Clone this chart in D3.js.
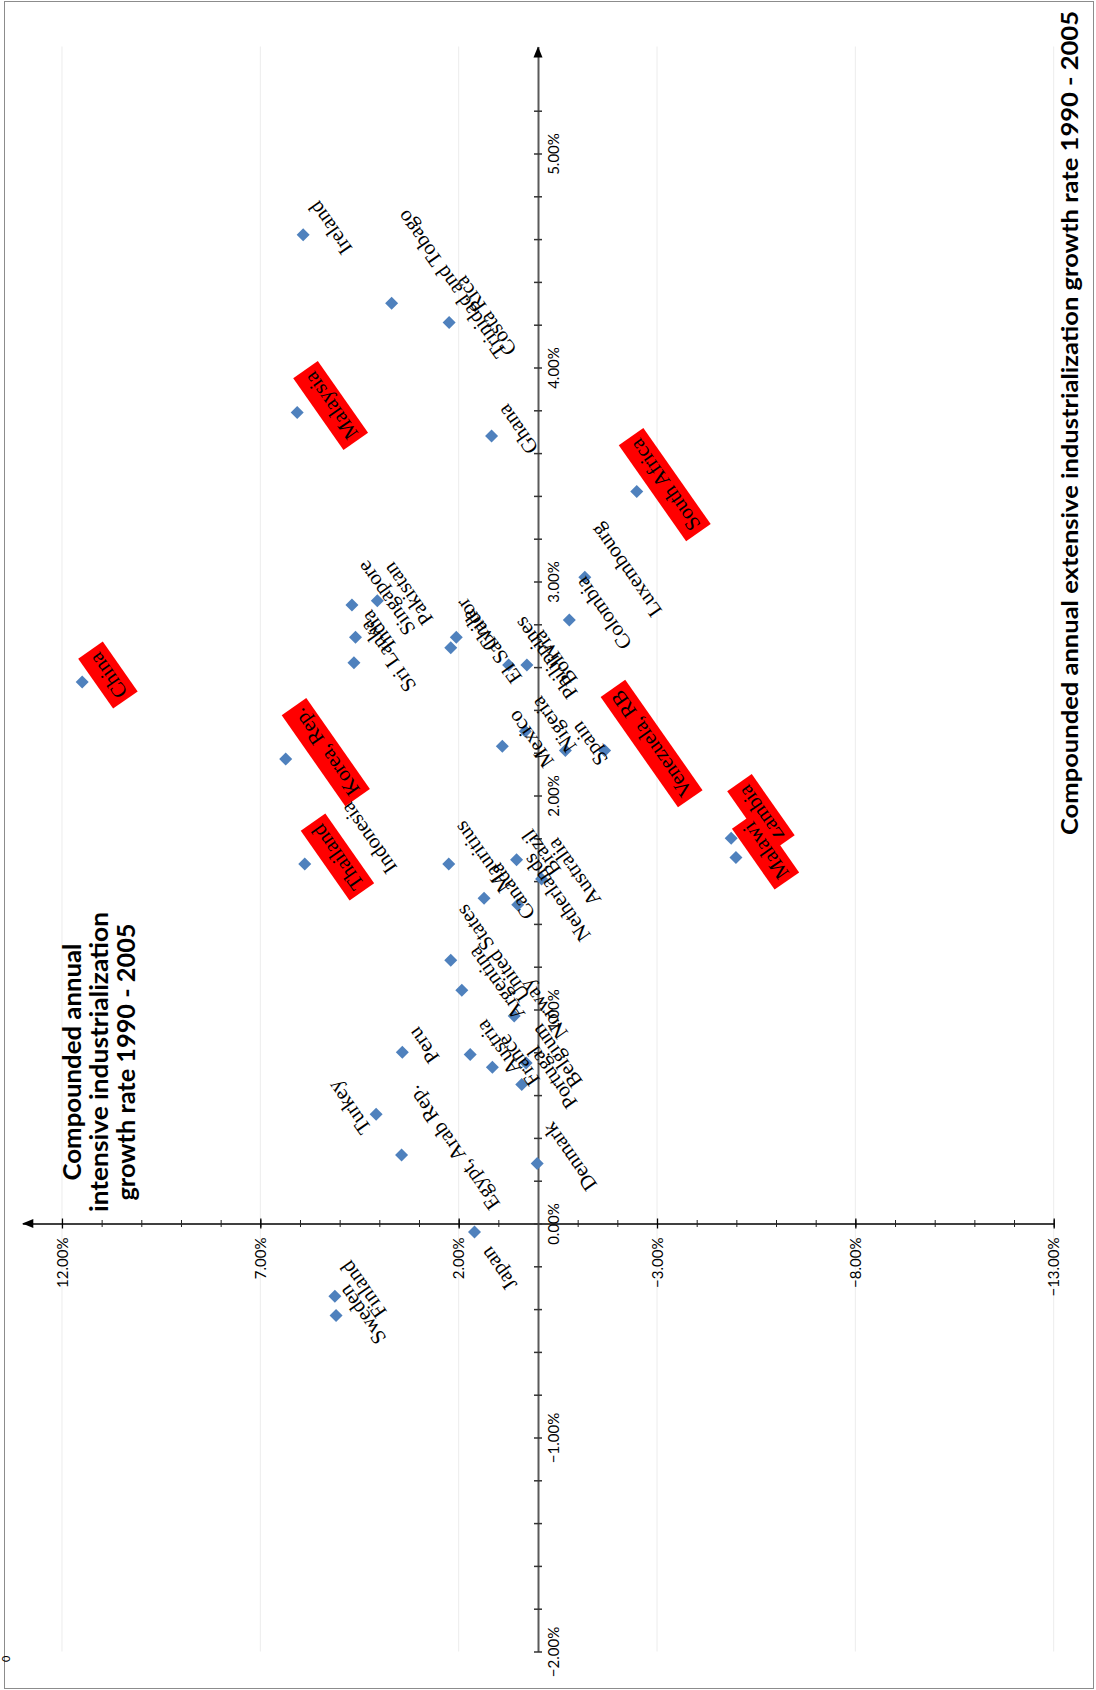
<!DOCTYPE html>
<html>
<head>
<meta charset="utf-8">
<script src="https://cdn.jsdelivr.net/npm/d3@7"></script>
<style>
body { margin: 0; background: #fff; }
</style>
</head>
<body>
<div id="chart"></div>
<script>
// data (percent)
var countries = ["Ireland", "Trinidad and Tobago", "Costa Rica", "Malaysia", "Ghana", "South Africa",
	"Luxembourg", "Colombia", "Pakistan", "Singapore", "India", "Sri Lanka", "Chile", "El Salvador",
	"Philippines", "Bolivia", "China", "Nigeria", "Mexico", "Spain", "Venezuela, RB", "Korea, Rep.",
	"Zambia", "Malawi", "Thailand", "Indonesia", "Brazil", "Mauritius", "Australia", "Canada",
	"Netherlands", "United States", "Argentina", "Norway", "Peru", "Austria", "France", "Belgium",
	"Portugal", "Turkey", "Egypt, Arab Rep.", "Denmark", "Japan", "Finland", "Sweden"];
var intensiveGrowth = [5.92, 3.69, 2.24, 6.07, 1.17, -2.49,
	-1.18, -0.79, 4.05, 4.69, 4.60, 4.64, 2.06, 2.20,
	0.74, 0.28, 11.49, 0.32, 0.90, -0.69, -1.68, 6.36,
	-4.87, -4.99, 5.88, 5.12, 0.54, 2.25, -0.09, 1.36,
	0.51, 2.20, 1.92, 0.60, 3.42, 1.71, 1.15, 0.30,
	0.41, 4.08, 3.44, 0.02, 1.60, 5.12, 5.09];
var extensiveGrowth = [4.62, 4.30, 4.21, 3.79, 3.68, 3.42,
	3.02, 2.82, 2.91, 2.89, 2.74, 2.62, 2.74, 2.69,
	2.61, 2.61, 2.53, 2.30, 2.23, 2.21, 2.21, 2.17,
	1.80, 1.71, 1.68, 1.77, 1.70, 1.68, 1.61, 1.52,
	1.49, 1.23, 1.09, 0.97, 0.80, 0.79, 0.73, 0.75,
	0.65, 0.51, 0.32, 0.28, -0.04, -0.34, -0.43];
var highlighted = ["China", "Korea, Rep.", "Malaysia", "Thailand", "South Africa",
	"Venezuela, RB", "Zambia", "Malawi"];
var intensiveTicks = [12, 7, 2, -3, -8, -13];
var extensiveTicks = [5, 4, 3, 2, 1, 0, -1, -2];

// a few labels that were dragged away from the default spot
var labelSide = {"Turkey": "l", "Japan": "b"};
var labelNudge = {"Zambia": [0, -18], "South Africa": [-14, 0], "Trinidad and Tobago": [0, -12], "Sweden": [-3, 6]};

var width = 1096, height = 1690;
var rows = countries.map(function (c, i) {
	return {name: c, i: intensiveGrowth[i], e: extensiveGrowth[i], hot: highlighted.indexOf(c) >= 0};
});

var svg = d3.select("#chart").append("svg")
	.attr("width", width)
	.attr("height", height)
	.style("display", "block");

svg.append("rect")
	.attr("x", 4.5).attr("y", 1.5)
	.attr("width", width - 7).attr("height", height - 3)
	.attr("fill", "#fff")
	.attr("stroke", "#8c8c8c");

// intensive runs right-to-left, extensive bottom-to-top (the chart is turned on its side)
var x = d3.scaleLinear().domain([13, -13]).range([22.3, 1053.7]);
var y = d3.scaleLinear().domain([-2, 5.5]).range([1651.5, 46.5]);

// faint gridlines
svg.append("g").selectAll("line")
	.data(intensiveTicks)
	.join("line")
		.attr("x1", d => x(d)).attr("x2", d => x(d))
		.attr("y1", y(5.5)).attr("y2", y(-2))
		.attr("stroke", "#ececec")
		.attr("stroke-width", 1);

var fmt = d => d3.format(".2f")(d) + "%";

// horizontal (intensive) axis
var hMinor = svg.append("g").attr("transform", "translate(0," + y(0) + ")");
hMinor.call(d3.axisBottom(x).tickValues(d3.range(-13, 13, 1)).tickSizeOuter(0).tickFormat(""));
hMinor.select(".domain").attr("stroke", "#000").attr("stroke-width", 1.6);
hMinor.selectAll(".tick line").attr("y1", -3.5).attr("y2", 3.5).attr("stroke", "#222");

var hMajor = svg.append("g").attr("transform", "translate(0," + y(0) + ")");
hMajor.call(d3.axisBottom(x).tickValues(intensiveTicks).tickSizeOuter(0).tickFormat(fmt));
hMajor.select(".domain").remove();
hMajor.selectAll(".tick line").attr("y1", -5).attr("y2", 5).attr("stroke", "#000").attr("stroke-width", 1.3);
hMajor.selectAll(".tick text")
	.attr("x", 0).attr("y", 0).attr("dy", "0.35em")
	.attr("transform", "translate(0,14) rotate(-90)")
	.attr("text-anchor", "end")
	.attr("font-family", "Lato, sans-serif")
	.attr("font-size", "15px")
	.attr("fill", "#000");

// vertical (extensive) axis
var vMinor = svg.append("g").attr("transform", "translate(" + x(0) + ",0)");
vMinor.call(d3.axisRight(y).tickValues(d3.range(-10, 27, 1).map(v => v / 5)).tickSizeOuter(0).tickFormat(""));
vMinor.select(".domain").attr("stroke", "#5a5a5a").attr("stroke-width", 2);
vMinor.selectAll(".tick line").attr("x1", -4).attr("x2", 4).attr("stroke", "#333").attr("stroke-width", 1.5);

var vMajor = svg.append("g").attr("transform", "translate(" + x(0) + ",0)");
vMajor.call(d3.axisRight(y).tickValues(extensiveTicks).tickSize(0).tickFormat(fmt));
vMajor.select(".domain").remove();
vMajor.selectAll(".tick text")
	.attr("x", 0).attr("y", 0).attr("dy", 0)
	.attr("transform", "translate(21,0) rotate(-90)")
	.attr("text-anchor", "middle")
	.attr("font-family", "Lato, sans-serif")
	.attr("font-size", "15px")
	.attr("fill", "#000");

// arrow heads
svg.append("path")
	.attr("d", "M" + x(13) + "," + y(0) + "l11,-4.5v9z")
	.attr("fill", "#000");
svg.append("path")
	.attr("d", "M" + x(0) + "," + y(5.5) + "l-4.5,11h9z")
	.attr("fill", "#000");

// points
var r = 6.5;
svg.append("g").selectAll("path")
	.data(rows)
	.join("path")
		.attr("transform", d => "translate(" + x(d.i) + "," + y(d.e) + ")")
		.attr("d", "M0," + (-r) + "L" + r + ",0L0," + r + "L" + (-r) + ",0Z")
		.attr("fill", "#4f81bd");

// data labels, turned like the rest of the chart
var ang = -125, rad = ang * Math.PI / 180;
var ca = Math.abs(Math.cos(rad)), sa = Math.abs(Math.sin(rad));

svg.append("g").selectAll("g")
	.data(rows)
	.join("g")
	.each(function (d) {
		var g = d3.select(this);
		var t = g.append("text")
			.text(d.name)
			.attr("font-family", "'Liberation Serif', 'Times New Roman', serif")
			.attr("font-size", "21px")
			.attr("fill", "#000");
		var bb = t.node().getBBox();
		var padX = d.hot ? 5 : 0, padY = d.hot ? 3 : 0;
		var w = bb.width + 2 * padX, h = bb.height + 2 * padY;
		var W = w * ca + h * sa, H = w * sa + h * ca;
		var px = x(d.i), py = y(d.e);
		var gap = d.hot ? -4 : 0;
		var side = labelSide[d.name] || "r";
		var cx, cy;
		if (side == "r") { cx = px + gap + W / 2; cy = py - 7; }
		else if (side == "l") { cx = px - gap - W / 2; cy = py - 7; }
		else { cx = px + W / 2; cy = py + 10 + H / 2; }
		var n = labelNudge[d.name] || [0, 0];
		cx += n[0]; cy += n[1];
		if (d.hot) {
			g.insert("rect", "text")
				.attr("x", bb.x - padX).attr("y", bb.y - padY)
				.attr("width", w).attr("height", h)
				.attr("fill", "#ff0000");
		}
		g.attr("transform", "translate(" + cx + "," + cy + ") rotate(" + ang + ") translate(" +
			(-(bb.x + bb.width / 2)) + "," + (-(bb.y + bb.height / 2)) + ")");
	});

// axis titles
svg.append("text")
	.attr("transform", "translate(1078,423) rotate(-90)")
	.attr("text-anchor", "middle")
	.attr("font-family", "Lato, sans-serif")
	.attr("font-weight", "bold")
	.attr("font-size", "22px")
	.attr("textLength", 824)
	.attr("lengthAdjust", "spacingAndGlyphs")
	.text("Compounded annual extensive industrialization growth rate 1990 - 2005");

var leftTitle = ["Compounded annual", "intensive industrialization", "growth rate 1990 - 2005"];
var leftLen = [237, 300, 277];
svg.append("g").selectAll("text")
	.data(leftTitle)
	.join("text")
		.attr("transform", (d, i) => "translate(" + (81 + i * 27) + ",1062) rotate(-90)")
		.attr("text-anchor", "middle")
		.attr("font-family", "Lato, sans-serif")
		.attr("font-weight", "bold")
		.attr("font-size", "24px")
		.attr("textLength", (d, i) => leftLen[i])
		.attr("lengthAdjust", "spacingAndGlyphs")
		.text(d => d);

// stray mark in the corner of the original
svg.append("text")
	.attr("transform", "translate(10,1662) rotate(-90)")
	.attr("font-family", "Lato, sans-serif")
	.attr("font-size", "11px")
	.text("0");
</script>
</body>
</html>
